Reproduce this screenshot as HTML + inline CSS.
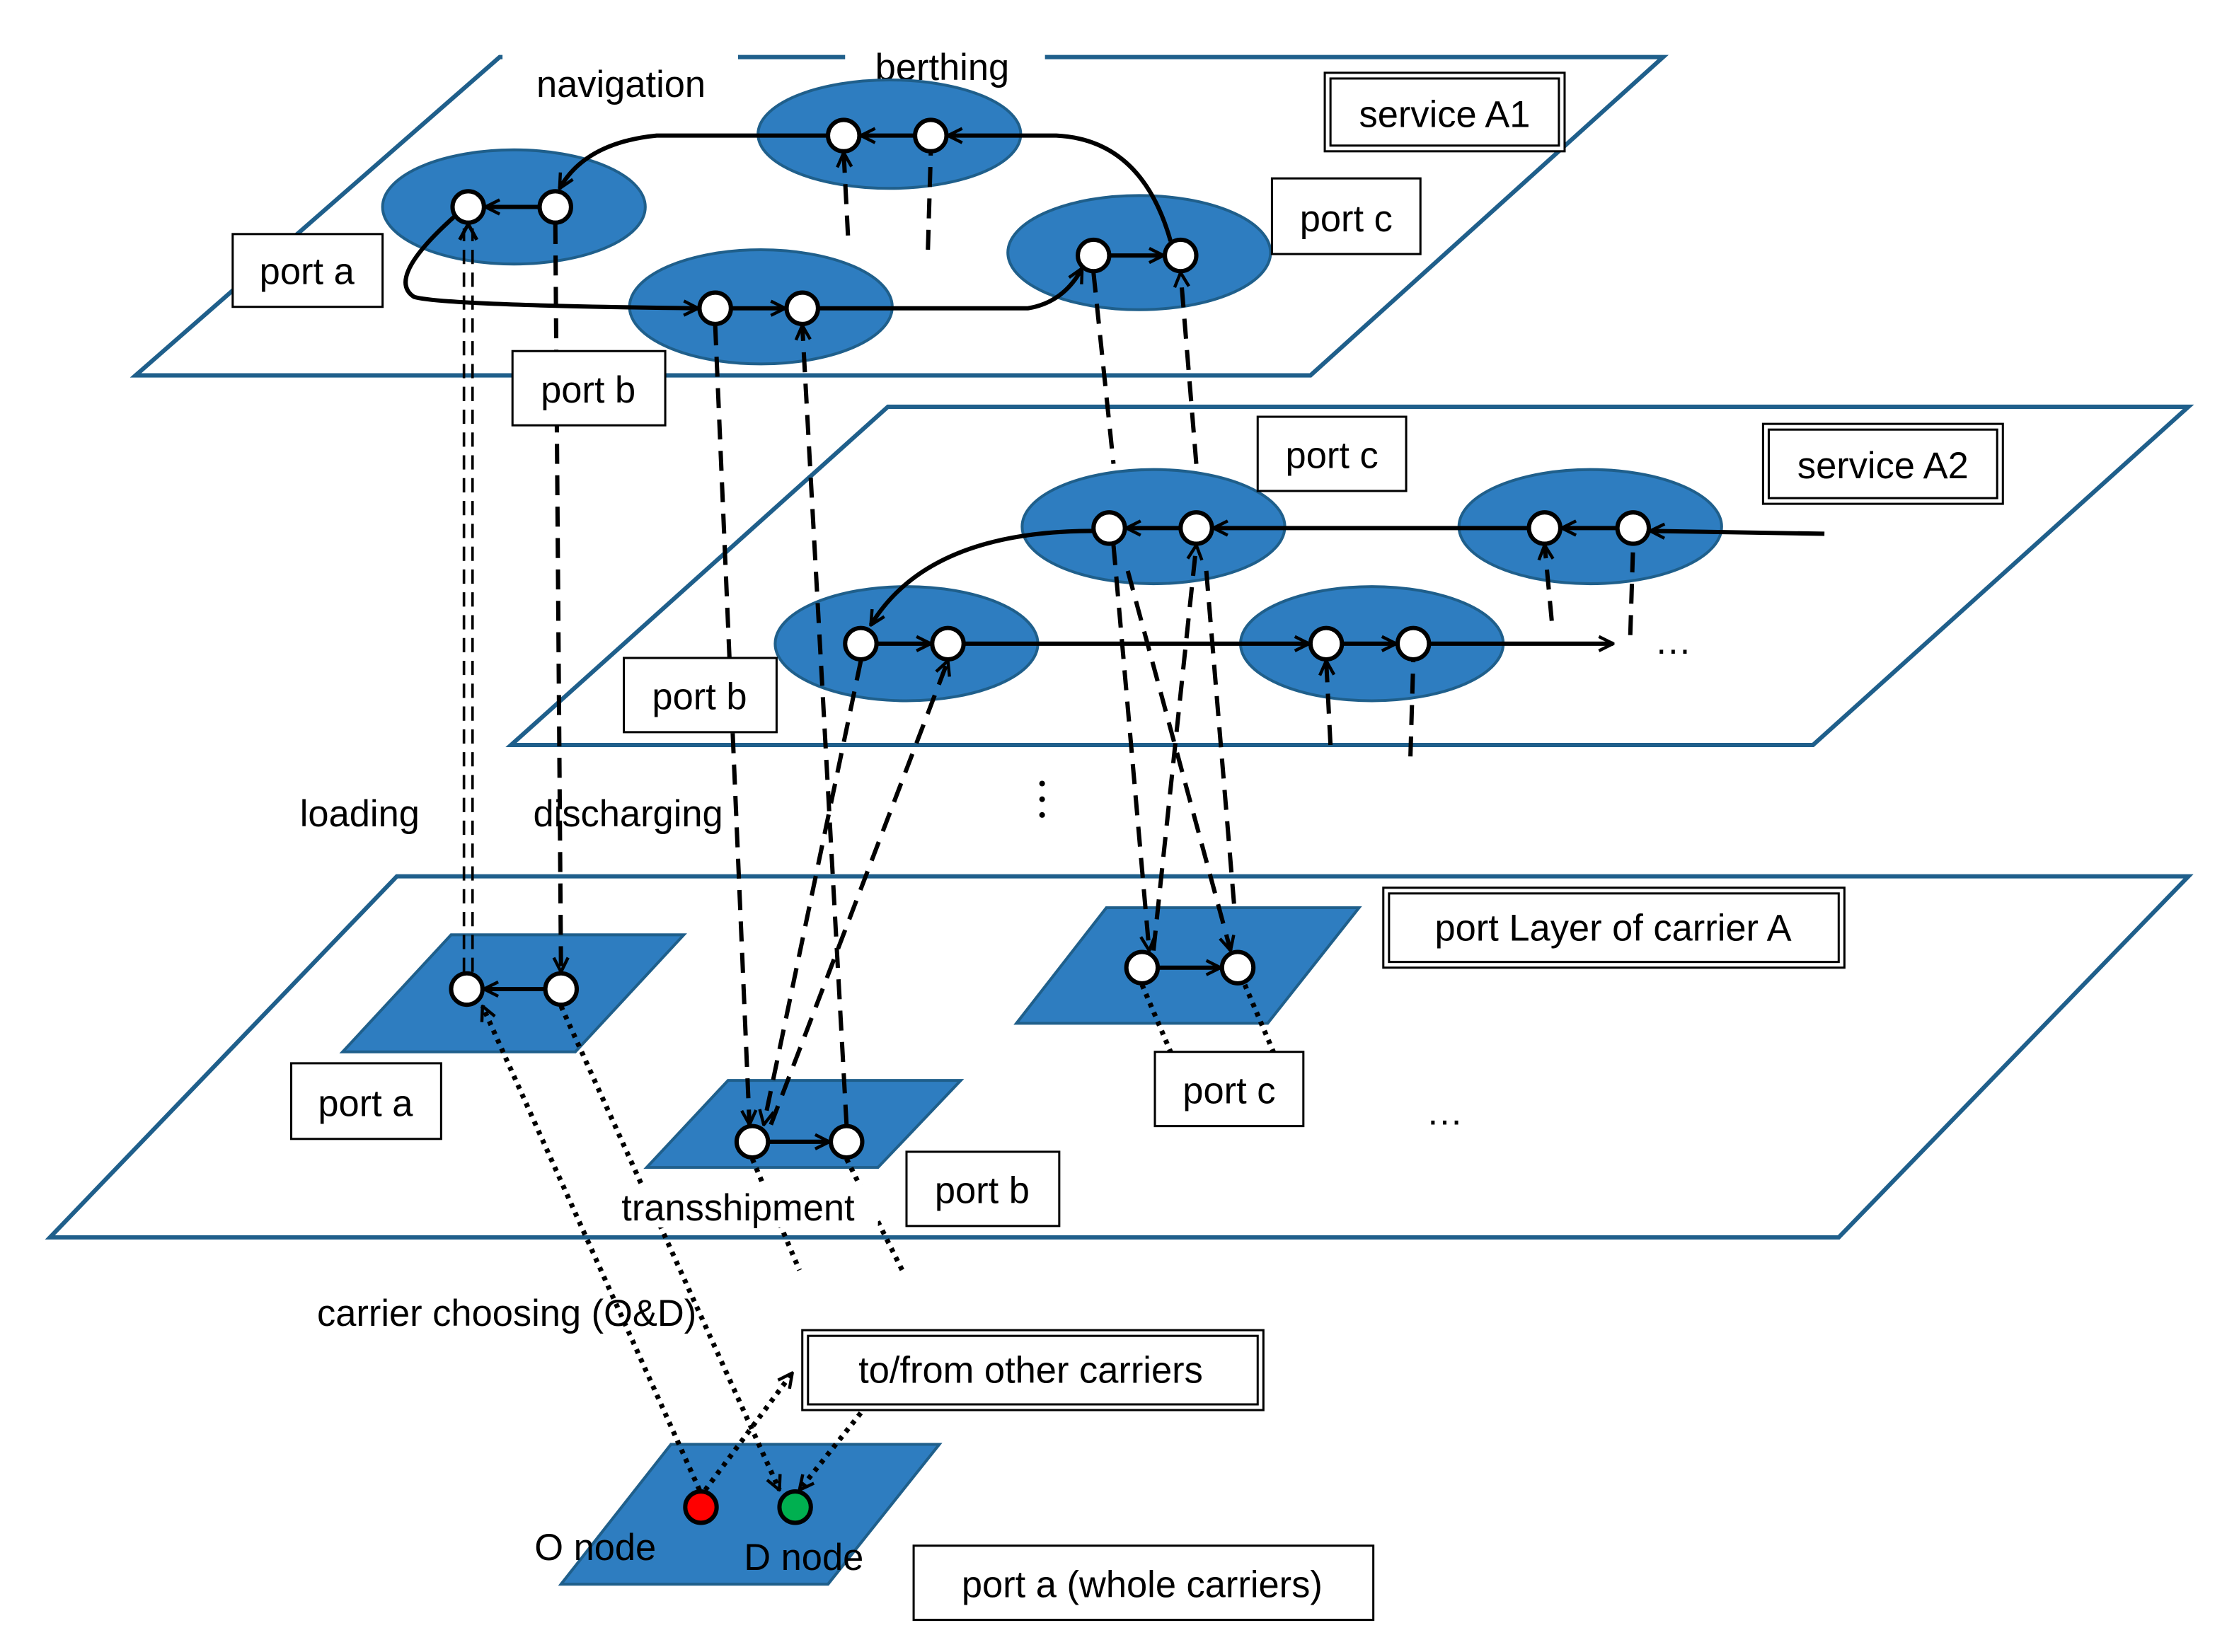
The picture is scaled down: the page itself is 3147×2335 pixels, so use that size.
<!DOCTYPE html>
<html><head><meta charset="utf-8"><style>
html,body{margin:0;padding:0;background:#fff;}
svg{display:block;}
text{font-family:"Liberation Sans",sans-serif;font-size:26px;fill:#000;}
</style></head><body>
<svg width="3147" height="2335" viewBox="0 0 1560 1157.5" preserveAspectRatio="none" xmlns="http://www.w3.org/2000/svg">
<defs>
<marker id="a" viewBox="0 0 12 12" refX="11" refY="6" markerWidth="12" markerHeight="12" markerUnits="userSpaceOnUse" orient="auto">
<path d="M1,1 L11,6 L1,11" fill="none" stroke="#000" stroke-width="2.2"/>
</marker>
</defs>
<rect width="1560" height="1158" fill="#fff"/>
<g fill="none" stroke="#1f5f8b" stroke-width="3">
<polygon points="95,263 350,40 1165,40 918,263"/>
<polygon points="358,522 622,285 1533,285 1270,522"/>
<polygon points="35,867 278,614 1533,614 1288,867"/>
</g>
<rect x="352" y="32" width="165" height="20" fill="#fff"/>
<rect x="592" y="30" width="140" height="20" fill="#fff"/>
<text x="435" y="68" text-anchor="middle">navigation</text>
<text x="660" y="56" text-anchor="middle">berthing</text>
<g fill="#2e7dc0" stroke="#1f5f8b" stroke-width="2">
<ellipse cx="360" cy="145" rx="92" ry="40"/>
<ellipse cx="623" cy="94" rx="92" ry="38"/>
<ellipse cx="798" cy="177" rx="92" ry="40"/>
<ellipse cx="533" cy="215" rx="92" ry="40"/>
<ellipse cx="808" cy="369" rx="92" ry="40"/>
<ellipse cx="1114" cy="369" rx="92" ry="40"/>
<ellipse cx="635" cy="451" rx="92" ry="40"/>
<ellipse cx="961" cy="451" rx="92" ry="40"/>
<polygon points="240,737 316,655 479,655 403,737"/>
<polygon points="453,818 510,757 673,757 615,818"/>
<polygon points="712,717 775,636 952,636 888,717"/>
<polygon points="393,1110 470,1012 658,1012 580,1110"/>
</g>
<!-- solid connectors -->
<g fill="none" stroke="#000" stroke-width="3">
<path d="M641,95 L603,95" marker-end="url(#a)"/>
<path d="M580,95 L460,95 Q410,100 392,132" marker-end="url(#a)"/>
<path d="M378,145 L340,145" marker-end="url(#a)"/>
<path d="M318,152 Q270,195 290,208 Q310,214 489,216" marker-end="url(#a)"/>
<path d="M512,216 L550,216" marker-end="url(#a)"/>
<path d="M573,216 L720,216 Q745,212 758,188" marker-end="url(#a)"/>
<path d="M777,179 L815,179" marker-end="url(#a)"/>
<path d="M820,169 Q800,98 740,95 L664,95" marker-end="url(#a)"/>
<path d="M1278,374 L1156,372" marker-end="url(#a)"/>
<path d="M1133,370 L1094,370" marker-end="url(#a)"/>
<path d="M1071,370 L850,370" marker-end="url(#a)"/>
<path d="M827,370 L789,370" marker-end="url(#a)"/>
<path d="M766,372 Q650,372 610,438" marker-end="url(#a)"/>
<path d="M614,451 L652,451" marker-end="url(#a)"/>
<path d="M675,451 L917,451" marker-end="url(#a)"/>
<path d="M940,451 L978,451" marker-end="url(#a)"/>
<path d="M1001,451 L1130,451" marker-end="url(#a)"/>
<path d="M382,693 L339,693" marker-end="url(#a)"/>
<path d="M538,800 L581,800" marker-end="url(#a)"/>
<path d="M811,678 L855,678" marker-end="url(#a)"/>
</g>
<!-- dashed -->
<g fill="none" stroke="#000" stroke-width="3" stroke-dasharray="14,8">
<path d="M389,157 L393,681" marker-end="url(#a)"/>
<path d="M501,228 L525,788" marker-end="url(#a)"/>
<path d="M593,788 L562,228" marker-end="url(#a)"/>
<path d="M766,191 L780,325"/>
<path d="M838,325 L827,191" marker-end="url(#a)"/>
<path d="M594,165 L591,107" marker-end="url(#a)"/>
<path d="M650,175 L652,107"/>
<path d="M1087,435 L1082,382" marker-end="url(#a)"/>
<path d="M1142,445 L1144,382"/>
<path d="M932,522 L929,463" marker-end="url(#a)"/>
<path d="M988,530 L990,463"/>
<path d="M780,382 L805,666" marker-end="url(#a)"/>
<path d="M790,400 L862,666" marker-end="url(#a)"/>
<path d="M808,666 L838,382" marker-end="url(#a)"/>
<path d="M845,400 L865,640"/>
<path d="M603,463 L535,788" marker-end="url(#a)"/>
<path d="M540,788 L664,463" marker-end="url(#a)"/>
</g>
<g fill="none" stroke="#000" stroke-width="1.8" stroke-dasharray="10,6">
<path d="M325,681 L325,160"/>
<path d="M331,681 L331,160"/>
</g>
<path d="M322,168 L328,157 L334,168" fill="none" stroke="#000" stroke-width="2.5"/>
<!-- dotted -->
<g fill="none" stroke="#000" stroke-width="3.5" stroke-dasharray="3,4">
<path d="M490,1044 L338,705" marker-end="url(#a)"/>
<path d="M393,705 L546,1044" marker-end="url(#a)"/>
<path d="M800,690 L820,737"/>
<path d="M872,690 L892,737"/>
<path d="M527,812 L560,890"/>
<path d="M593,812 L632,890"/>
<path d="M494,1044 L555,962" marker-end="url(#a)"/>
<path d="M603,990 L560,1044" marker-end="url(#a)"/>
</g>
<!-- nodes -->
<g fill="#fff" stroke="#000" stroke-width="3">
<circle cx="328" cy="145" r="11"/><circle cx="389" cy="145" r="11"/>
<circle cx="591" cy="95" r="11"/><circle cx="652" cy="95" r="11"/>
<circle cx="766" cy="179" r="11"/><circle cx="827" cy="179" r="11"/>
<circle cx="501" cy="216" r="11"/><circle cx="562" cy="216" r="11"/>
<circle cx="777" cy="370" r="11"/><circle cx="838" cy="370" r="11"/>
<circle cx="1082" cy="370" r="11"/><circle cx="1144" cy="370" r="11"/>
<circle cx="603" cy="451" r="11"/><circle cx="664" cy="451" r="11"/>
<circle cx="929" cy="451" r="11"/><circle cx="990" cy="451" r="11"/>
<circle cx="327" cy="693" r="11"/><circle cx="393" cy="693" r="11"/>
<circle cx="527" cy="800" r="11"/><circle cx="593" cy="800" r="11"/>
<circle cx="800" cy="678" r="11"/><circle cx="867" cy="678" r="11"/>
<circle cx="491" cy="1056" r="11" fill="#ff0000"/>
<circle cx="557" cy="1056" r="11" fill="#00b050"/>
</g>
<!-- label boxes -->
<g fill="#fff" stroke="#000" stroke-width="1.5">
<rect x="928" y="51" width="168" height="55"/><rect x="932" y="55" width="160" height="47"/>
<rect x="891" y="125" width="104" height="53"/>
<rect x="163" y="164" width="105" height="51"/>
<rect x="359" y="246" width="107" height="52"/>
<rect x="881" y="292" width="104" height="52"/>
<rect x="1235" y="297" width="168" height="56"/><rect x="1239" y="301" width="160" height="48"/>
<rect x="437" y="461" width="107" height="52"/>
<rect x="969" y="622" width="323" height="56"/><rect x="973" y="626" width="315" height="48"/>
<rect x="204" y="745" width="105" height="53"/>
<rect x="809" y="737" width="104" height="52"/>
<rect x="635" y="807" width="107" height="52"/>
<rect x="562" y="932" width="323" height="56"/><rect x="566" y="936" width="315" height="48"/>
<rect x="640" y="1083" width="322" height="52"/>
</g>
<text x="1012" y="89" text-anchor="middle">service A1</text>
<text x="943" y="162" text-anchor="middle">port c</text>
<text x="215" y="199" text-anchor="middle">port a</text>
<text x="412" y="282" text-anchor="middle">port b</text>
<text x="933" y="328" text-anchor="middle">port c</text>
<text x="1319" y="335" text-anchor="middle">service A2</text>
<text x="490" y="497" text-anchor="middle">port b</text>
<text x="1130" y="659" text-anchor="middle">port Layer of carrier A</text>
<text x="256" y="782" text-anchor="middle">port a</text>
<text x="861" y="773" text-anchor="middle">port c</text>
<text x="688" y="843" text-anchor="middle">port b</text>
<text x="722" y="969" text-anchor="middle">to/from other carriers</text>
<text x="800" y="1119" text-anchor="middle">port a (whole carriers)</text>
<text x="252" y="579" text-anchor="middle">loading</text>
<text x="440" y="579" text-anchor="middle">discharging</text>
<rect x="420" y="830" width="195" height="30" fill="#fff"/>
<text x="517" y="855" text-anchor="middle">transshipment</text>
<text x="355" y="929" text-anchor="middle">carrier choosing (O&amp;D)</text>
<text x="417" y="1093" text-anchor="middle">O node</text>
<text x="563" y="1100" text-anchor="middle">D node</text>
<text x="1172" y="458" text-anchor="middle">…</text>
<text x="1012" y="788" text-anchor="middle">…</text>
<g fill="#000"><circle cx="730" cy="549" r="2"/><circle cx="730" cy="560" r="2"/><circle cx="730" cy="571" r="2"/></g>
</svg>
</body></html>
